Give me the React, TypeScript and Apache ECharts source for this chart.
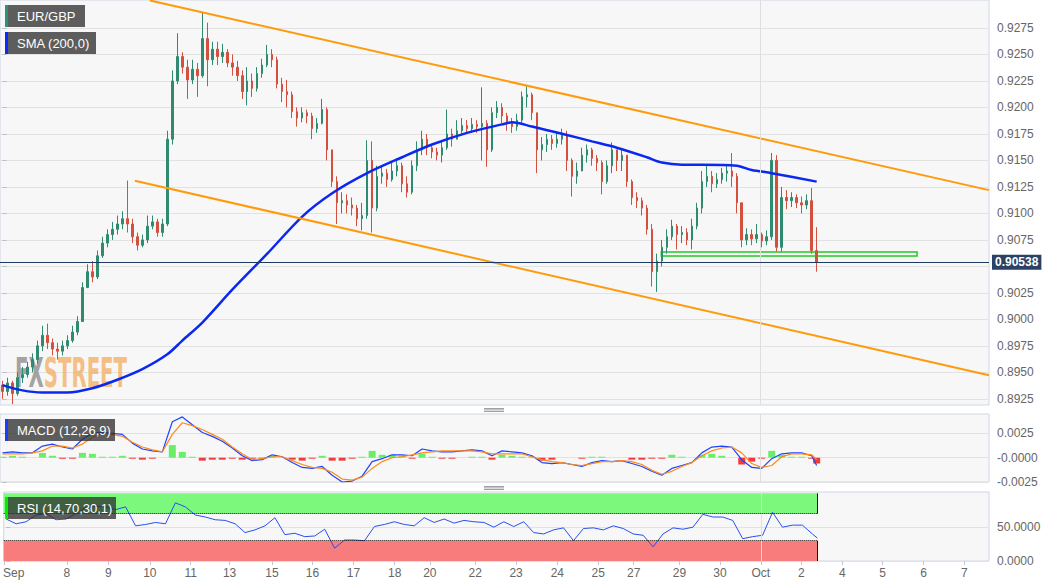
import React, { useEffect, useRef } from "react";
import * as echarts from "echarts";

// ---------- data ----------
const firstOpen = 0.8938;
const closes = [
  0.8932, 0.894, 0.893, 0.8945, 0.8948, 0.8955, 0.8962, 0.8975, 0.8985, 0.8978,
  0.8972, 0.897, 0.8975, 0.898, 0.8988, 0.8998, 0.903, 0.9045, 0.904, 0.906,
  0.9072, 0.908, 0.9085, 0.909, 0.9095, 0.909, 0.9078, 0.907, 0.9075, 0.9088,
  0.9092, 0.9082, 0.909, 0.917, 0.9225, 0.9248, 0.9238, 0.9226, 0.9236, 0.923,
  0.9265, 0.9245, 0.9255, 0.9248, 0.9252, 0.9242, 0.9238, 0.923, 0.9215, 0.9225,
  0.9218, 0.9232, 0.924, 0.925, 0.9245, 0.9222, 0.9215, 0.9212, 0.9196, 0.919,
  0.9195, 0.9192, 0.918, 0.9185, 0.9198, 0.916, 0.913, 0.911, 0.9112, 0.9108,
  0.9105, 0.9095, 0.9098, 0.915, 0.9105, 0.9135, 0.9138, 0.9132, 0.914, 0.9145,
  0.9128, 0.912, 0.9145, 0.916, 0.917, 0.9162, 0.9158, 0.9155, 0.9162, 0.9175,
  0.917, 0.9178, 0.9183, 0.918, 0.9184, 0.9182, 0.9185, 0.916, 0.9195, 0.92,
  0.9192, 0.9185, 0.9182, 0.9188, 0.921, 0.9212, 0.9195, 0.916, 0.9165, 0.917,
  0.9166, 0.917, 0.9174, 0.915, 0.9135, 0.914, 0.9155, 0.916, 0.9152, 0.9148,
  0.913, 0.9145, 0.916, 0.915, 0.9155, 0.913, 0.9115, 0.9112, 0.9105, 0.9085,
  0.9045, 0.9055, 0.9068, 0.9078, 0.9088, 0.908, 0.9082, 0.9075, 0.9088, 0.9105,
  0.913, 0.9135, 0.9128, 0.9132, 0.9138, 0.914, 0.9135, 0.911, 0.9075, 0.908,
  0.9076, 0.908, 0.9074, 0.9078, 0.915, 0.9068, 0.9115, 0.9112, 0.9115, 0.911,
  0.9108, 0.9112, 0.9065, 0.90538,
];
const highs = [
  0.8942, 0.8945, 0.8942, 0.895, 0.8955, 0.896, 0.8968, 0.898, 0.8994, 0.8996,
  0.8982, 0.8978, 0.898, 0.8985, 0.8994, 0.9003, 0.9035, 0.9052, 0.9055, 0.9065,
  0.9078, 0.9085, 0.9092, 0.9098, 0.9102, 0.9131, 0.9095, 0.9082, 0.908, 0.9098,
  0.9098, 0.9095, 0.9095, 0.9178, 0.9235, 0.927, 0.9252, 0.9245, 0.9245, 0.9242,
  0.929, 0.928, 0.9262, 0.9262, 0.926, 0.9255, 0.925, 0.9244, 0.9235, 0.9238,
  0.9232, 0.9238, 0.9246, 0.9259, 0.9255, 0.9248, 0.9228, 0.9226, 0.9215, 0.92,
  0.92, 0.9198, 0.9195, 0.919, 0.9208, 0.92, 0.916, 0.9135, 0.912, 0.9118,
  0.9115, 0.9108, 0.911, 0.9169, 0.9168, 0.9145, 0.9145, 0.9142, 0.9148, 0.9152,
  0.9148, 0.9135, 0.915, 0.9168, 0.9178, 0.9175, 0.9165, 0.9162, 0.9168, 0.9198,
  0.918, 0.9188, 0.919, 0.9188, 0.919, 0.9188, 0.9219, 0.9188, 0.92, 0.9206,
  0.9204, 0.9195, 0.919, 0.9194, 0.9215, 0.922, 0.9214, 0.9195, 0.9172, 0.9175,
  0.9174, 0.9176, 0.918, 0.9178, 0.9152, 0.9148, 0.9162, 0.9165, 0.9162, 0.9155,
  0.915, 0.915, 0.9167, 0.916, 0.916, 0.9155, 0.9132, 0.912, 0.9115, 0.9108,
  0.909, 0.9062, 0.9075, 0.9085, 0.9094, 0.909, 0.9088, 0.9086, 0.9095, 0.911,
  0.914, 0.9145, 0.914, 0.9138, 0.9143, 0.9146, 0.9157, 0.9138, 0.911, 0.9086,
  0.9085, 0.909, 0.9082, 0.9084, 0.9157, 0.9155, 0.9125, 0.9122, 0.912, 0.9118,
  0.9116, 0.9118, 0.9124, 0.9087,
];
const lows = [
  0.8925, 0.8928, 0.892, 0.8928, 0.894, 0.8945, 0.895, 0.8958, 0.897, 0.8972,
  0.8966, 0.8962, 0.8966, 0.8972, 0.8978, 0.8985, 0.8998, 0.903, 0.9035, 0.9038,
  0.9058, 0.9068, 0.9075, 0.908, 0.9085, 0.9082, 0.9072, 0.9065, 0.9068, 0.9072,
  0.9085, 0.9078, 0.9078, 0.9088, 0.9165, 0.9222, 0.9232, 0.9208, 0.9222, 0.921,
  0.9228, 0.922, 0.924, 0.924, 0.9242, 0.9238, 0.923, 0.9225, 0.9208, 0.9202,
  0.921, 0.9215, 0.9228, 0.9238, 0.9238, 0.9218, 0.9205, 0.92, 0.919, 0.9182,
  0.9186, 0.9185, 0.917, 0.9176, 0.9184, 0.915, 0.9125, 0.909, 0.91, 0.91,
  0.9098, 0.9088, 0.9084, 0.9095, 0.9082, 0.9102, 0.9128, 0.9125, 0.913, 0.9135,
  0.912, 0.9115, 0.9118, 0.914, 0.9155, 0.9155, 0.9152, 0.915, 0.9148, 0.916,
  0.9163, 0.917, 0.9174, 0.9175, 0.9176, 0.9176, 0.915, 0.9144, 0.9158, 0.919,
  0.9185, 0.9178, 0.9176, 0.9178, 0.9185, 0.92, 0.9188, 0.9138, 0.915, 0.9158,
  0.916, 0.9162, 0.9165, 0.914, 0.9116, 0.9128, 0.914, 0.9148, 0.9145, 0.914,
  0.9118, 0.9128, 0.9138, 0.914, 0.914, 0.9125, 0.9108, 0.9105, 0.9098, 0.908,
  0.9031, 0.9026, 0.905, 0.9062, 0.9075, 0.9066, 0.9072, 0.907, 0.9066, 0.9085,
  0.91, 0.9125, 0.912, 0.9124, 0.9128, 0.913, 0.9125, 0.91, 0.9068, 0.907,
  0.907, 0.9072, 0.9068, 0.907, 0.9075, 0.9064, 0.9064, 0.9104, 0.9106, 0.9105,
  0.91, 0.9104, 0.9062, 0.9045,
];
// SMA(200): [candle index, value]
const smaPoints: [number, number][] = [
  [0, 0.8938], [4, 0.8933], [8, 0.8931], [13, 0.8931], [18, 0.8935], [23, 0.8943],
  [28, 0.8953], [33, 0.8967], [36, 0.898], [40, 0.8997], [46, 0.9028], [53, 0.9062],
  [60, 0.9097], [66, 0.9119], [73, 0.9138], [80, 0.9153], [86, 0.9165], [93, 0.9176],
  [100, 0.9184], [102, 0.9186], [106, 0.9182], [113, 0.9174], [118, 0.9168], [123, 0.9162],
  [129, 0.9153], [132, 0.9148], [136, 0.9146], [140, 0.9146], [147, 0.9145], [150, 0.9141],
  [154, 0.9138], [163, 0.913],
];
// indicators sampled every other candle, plus the last candle
const macdLine = [
  0.0005, 0.0006, 0.0005, 0.0005, 0.0012, 0.0014, 0.0011, 0.0009, 0.0019, 0.0025,
  0.0026, 0.0025, 0.0024, 0.0015, 0.0009, 0.0007, 0.0006, 0.0037, 0.0042, 0.0034,
  0.0026, 0.0022, 0.0017, 0.001, 0.0002, -0.0003, -0.0002, 0.0003, 0.0001, -0.0005,
  -0.001, -0.0011, -0.0009, -0.0018, -0.0025, -0.0024, -0.0019, -0.0004, -0.0001, 0.0003,
  0.0003, 0.0002, 0.0009, 0.0007, 0.0006, 0.0006, 0.0007, 0.0008, 0.0007, 0.0002,
  0.0007, 0.0006, 0.0005, 0.0002, -0.0005, -0.0006, -0.0005, -0.0007, -0.0009, -0.0005,
  -0.0003, -0.0004, -0.0003, -0.0006, -0.0009, -0.0014, -0.0018, -0.0011, -0.0008, -0.0005,
  0.0005, 0.0011, 0.0012, 0.0011, -0.0002, -0.001, -0.0011, -0.0001, 0.0004, 0.0005,
  0.0005, 0.0002, -0.0008,
];
const signalLine = [
  0.0004, 0.0004, 0.0004, 0.0005, 0.0007, 0.0012, 0.0012, 0.001, 0.0014, 0.0021,
  0.0025, 0.0024, 0.0022, 0.0016, 0.0011, 0.0008, 0.0006, 0.0024, 0.0036, 0.0033,
  0.0029, 0.0024, 0.0019, 0.0011, 0.0004, -0.0002, -0.0001, 0.0001, 0.0001, -0.0003,
  -0.0007, -0.001, -0.0011, -0.0015, -0.0022, -0.0023, -0.002, -0.0011, -0.0004, 0.0,
  0.0001, 0.0003, 0.0005, 0.0006, 0.0007, 0.0007, 0.0007, 0.0007, 0.0006, 0.0004,
  0.0004, 0.0004, 0.0004, 0.0001, -0.0002, -0.0004, -0.0005, -0.0007, -0.0008, -0.0006,
  -0.0004, -0.0004, -0.0003, -0.0004, -0.0007, -0.0013, -0.0017, -0.0014, -0.0009, -0.0005,
  0.0002, 0.0007, 0.001, 0.0011, 0.0005, -0.0006, -0.001, -0.0008, 0.0001, 0.0004,
  0.0004, 0.0003, -0.0002,
];
const rsiLine = [
  62, 55, 58, 68, 70, 61, 62, 70, 79, 81,
  80, 76, 80, 52, 54, 57, 55, 86, 80, 68,
  65, 61, 60, 55, 42, 46, 52, 64, 39, 41,
  36, 37, 47, 19, 31, 31, 30, 51, 54, 58,
  54, 52, 64, 57, 62, 56, 60, 58, 57, 50,
  58, 51, 58, 42, 40, 46, 49, 30, 48, 49,
  46, 52, 48, 40, 38, 21, 40, 49, 47, 50,
  69, 65, 65, 60, 33, 36, 38, 72, 50, 53,
  53, 40, 34,
];
const lastPrice = 0.90538;
const upperChannel: [number, number][] = [[29.5, 0.9301], [197.5, 0.9122]];
const lowerChannel: [number, number][] = [[26.5, 0.91308], [197.5, 0.89473]];
const supportZone = { from: 131.9, to: 183.1, low: 0.90599, high: 0.90637 };
const priceTicks = [0.8925, 0.895, 0.8975, 0.9, 0.9025, 0.905, 0.9075, 0.91, 0.9125, 0.915, 0.9175, 0.92, 0.9225, 0.925, 0.9275];
const macdTicks = [-0.0025, 0, 0.0025];
const rsiTicks = [0, 50];
const rsiZones = { over: 70, under: 30, top: 100, end: 163 };
const dayStarts = [
  { t: -0.3, at: 1.5, label: "Sep" }, { t: 12.17, at: 12.17, label: "8" },
  { t: 20.52, at: 20.52, label: "9" }, { t: 28.87, at: 28.87, label: "10" },
  { t: 37.08, at: 37.08, label: "11" }, { t: 44.89, at: 44.89, label: "13" },
  { t: 53.41, at: 53.41, label: "15" }, { t: 61.56, at: 61.56, label: "16" },
  { t: 69.77, at: 69.77, label: "17" }, { t: 78.08, at: 78.08, label: "18" },
  { t: 85.13, at: 85.13, label: "20" }, { t: 94.25, at: 94.25, label: "22" },
  { t: 102.46, at: 102.46, label: "23" }, { t: 110.75, at: 110.75, label: "24" },
  { t: 118.96, at: 118.96, label: "25" }, { t: 126.09, at: 126.09, label: "27" },
  { t: 135.3, at: 135.3, label: "29" }, { t: 143.44, at: 143.44, label: "30" },
  { t: 151.65, at: 151.65, label: "Oct" }, { t: 159.8, at: 159.8, label: "2" },
  { t: 168.01, at: 168.01, label: "4" }, { t: 176.14, at: 176.14, label: "5" },
  { t: 184.35, at: 184.35, label: "6" }, { t: 192.55, at: 192.55, label: "7" },
];
const octStart = 151.65;
const X_MIN = -0.5;
const X_MAX = 197.5;

const sampleCandle = (k: number) => (k < macdLine.length - 1 ? 2 * k : closes.length - 1);

function buildOption() {
  const candles = closes.map((c, i) => {
    const o = i === 0 ? firstOpen : closes[i - 1];
    const h = Math.max(highs[i], o, c);
    const l = Math.min(lows[i], o, c);
    return [i, o, c, l, h];
  });
  const font = "Liberation Sans, Arial, sans-serif";
  const gridBase = {
    left: 0, right: 71, show: true, backgroundColor: "#f7f7f7",
    borderColor: "#d0d6e4", borderWidth: 1,
  };
  const hiddenX = (gi: number) => ({
    type: "value", gridIndex: gi, min: X_MIN, max: X_MAX,
    axisLine: { show: false }, axisTick: { show: false }, axisLabel: { show: false },
    splitLine: { show: false },
  });
  const yBase = (gi: number, min: number, max: number, ticks: number[], labels: number[], fmt: (v: number) => string) => ({
    type: "value", gridIndex: gi, position: "right", min, max,
    axisLine: { show: false },
    axisTick: { show: true, length: 4, customValues: ticks, lineStyle: { color: "#b8bfcc" } },
    axisLabel: { customValues: labels, formatter: fmt, color: "#666", fontSize: 12, fontFamily: font, margin: 8 },
    splitLine: { show: true, lineStyle: { color: "#e2e2e2", width: 1 } },
  });
  const octLine = { xAxis: octStart, lineStyle: { color: "#dedede", width: 1, type: "solid" }, label: { show: false } };
  // the last-price tag hides the price label it covers
  const priceLabels = priceTicks.filter((v) => Math.abs(v - lastPrice) > 0.001);

  const box = (x: number, y: number, w: number, strip: string, text: string) => ({
    type: "group", z: 100,
    children: [
      { type: "rect", shape: { x, y, width: w, height: 22 }, style: { fill: "rgba(45,45,45,0.76)" }, z: 100 },
      { type: "rect", shape: { x, y, width: 3, height: 22 }, style: { fill: strip }, z: 101 },
      {
        type: "text", x: x + 12, y: y + 11, z: 102,
        style: { text, fill: "#fff", font: `13px ${font}`, verticalAlign: "middle" },
      },
    ],
  });
  const handle = (y: number) => ({
    type: "group",
    children: [0, 1.5, 3].map((d) => ({
      type: "rect", shape: { x: 484, y: y + d, width: 20, height: 0.8 }, style: { fill: "#8a8a8a" },
    })),
  });

  return {
    animation: false,
    backgroundColor: "#ffffff",
    grid: [
      { ...gridBase, top: 0, height: 405 },
      { ...gridBase, top: 414, height: 68 },
      { ...gridBase, top: 492, height: 69 },
    ],
    xAxis: [
      hiddenX(0),
      hiddenX(1),
      {
        ...hiddenX(2),
        axisTick: { show: true, length: 4, customValues: dayStarts.map((d) => d.t), lineStyle: { color: "#c0c7d4" } },
        axisLabel: {
          show: true, customValues: dayStarts.map((d) => d.at), color: "#666", fontSize: 12, fontFamily: font, margin: 6,
          formatter: (v: number) => {
            const d = dayStarts.find((e) => Math.abs(e.at - v) < 1e-6);
            return d ? d.label : "";
          },
        },
      },
    ],
    yAxis: [
      yBase(0, 0.89192, 0.93014, priceTicks, priceLabels, (v) => v.toFixed(4)),
      yBase(1, -0.0025, 0.0045, macdTicks, macdTicks, (v) => (Math.abs(v) < 1e-9 ? "-0.0000" : v.toFixed(4))),
      yBase(2, 0, 102, rsiTicks, rsiTicks, (v) => v.toFixed(4)),
    ],
    graphic: [
      {
        type: "text", x: 15, y: 352, scaleX: 0.52, scaleY: 1.08, z: 1,
        style: {
          text: "{a|FX}{b|STREET}",
          rich: {
            a: { fill: "rgba(140,140,140,0.8)", fontSize: 38, fontWeight: "bold", fontFamily: "DejaVu Sans" },
            b: { fill: "rgba(242,176,100,0.8)", fontSize: 38, fontWeight: "bold", fontFamily: "DejaVu Sans" },
          },
        },
      },
      box(5, 5, 80, "#2b9276", "EUR/GBP"),
      box(5, 32, 91, "#0a28ff", "SMA (200,0)"),
      box(5, 419, 110, "#1a3cff", "MACD (12,26,9)"),
      box(5, 497, 111, "#00ee00", "RSI (14,70,30,1)"),
      handle(408),
      handle(486),
    ],
    series: [
      {
        type: "candlestick", xAxisIndex: 0, yAxisIndex: 0, z: 2,
        data: candles, encode: { x: 0, y: [1, 2, 3, 4] }, barWidth: 2,
        itemStyle: { color: "#2e8b6f", color0: "#d4503e", borderColor: "#2e8b6f", borderColor0: "#d4503e", borderWidth: 1 },
      },
      {
        type: "line", xAxisIndex: 0, yAxisIndex: 0, z: 3, data: smaPoints, smooth: 0.3,
        symbol: "none", lineStyle: { color: "#0a28f0", width: 2.5 },
        markLine: {
          symbol: "none", silent: true, animation: false, precision: 5,
          data: [
            octLine,
            {
              yAxis: lastPrice,
              lineStyle: { color: "#1f3a60", width: 1, type: "solid" },
              label: {
                show: true, position: "end", formatter: lastPrice.toFixed(5), distance: 3,
                backgroundColor: "#2b4165", color: "#fff", fontWeight: "bold", fontSize: 12,
                fontFamily: font, padding: [2, 3, 1, 3],
              },
            },
          ],
        },
        markArea: {
          silent: true,
          data: [[
            { coord: [supportZone.from, supportZone.high], itemStyle: { color: "rgba(255,255,255,0.5)", borderColor: "#1fcc1f", borderWidth: 1.5 } },
            { coord: [supportZone.to, supportZone.low] },
          ]],
        },
      },
      {
        type: "line", xAxisIndex: 0, yAxisIndex: 0, z: 3, data: upperChannel,
        symbol: "none", lineStyle: { color: "#ff9a0a", width: 2 },
      },
      {
        type: "line", xAxisIndex: 0, yAxisIndex: 0, z: 3, data: lowerChannel,
        symbol: "none", lineStyle: { color: "#ff9a0a", width: 2 },
      },
      {
        type: "bar", xAxisIndex: 1, yAxisIndex: 1, z: 2, barWidth: 7,
        data: macdLine.map((m, k) => [sampleCandle(k), +(m - signalLine[k]).toFixed(5)]),
        itemStyle: { color: (p: any) => (p.value[1] >= 0 ? "#6aee6a" : "#f23a3a") },
        markLine: { symbol: "none", silent: true, data: [octLine] },
      },
      {
        type: "line", xAxisIndex: 1, yAxisIndex: 1, z: 3,
        data: macdLine.map((m, k) => [sampleCandle(k), m]),
        symbol: "none", lineStyle: { color: "#1f44ff", width: 1.2 },
      },
      {
        type: "line", xAxisIndex: 1, yAxisIndex: 1, z: 3,
        data: signalLine.map((s, k) => [sampleCandle(k), s]),
        symbol: "none", lineStyle: { color: "#ff8a1a", width: 1.2 },
      },
      {
        type: "line", xAxisIndex: 2, yAxisIndex: 2, z: 1, data: [],
        markArea: {
          silent: true,
          data: [
            [{ coord: [X_MIN, rsiZones.over], itemStyle: { color: "#7cf87c" } }, { coord: [rsiZones.end, rsiZones.top] }],
            [{ coord: [X_MIN, 0], itemStyle: { color: "#f87c7c" } }, { coord: [rsiZones.end, rsiZones.under] }],
          ],
        },
        markLine: {
          symbol: "none", silent: true, label: { show: false },
          data: [
            octLine,
            [{ coord: [X_MIN, rsiZones.over], lineStyle: { color: "#111", width: 1, type: "dotted" } }, { coord: [rsiZones.end, rsiZones.over] }],
            [{ coord: [X_MIN, rsiZones.under], lineStyle: { color: "#111", width: 1, type: "dotted" } }, { coord: [rsiZones.end, rsiZones.under] }],
            [{ coord: [rsiZones.end, rsiZones.over], lineStyle: { color: "#111", width: 1, type: "solid" } }, { coord: [rsiZones.end, rsiZones.top] }],
            [{ coord: [rsiZones.end, 0], lineStyle: { color: "#111", width: 1, type: "solid" } }, { coord: [rsiZones.end, rsiZones.under] }],
          ],
        },
      },
      {
        type: "line", xAxisIndex: 2, yAxisIndex: 2, z: 3,
        data: rsiLine.map((v, k) => [sampleCandle(k), v]),
        symbol: "none", lineStyle: { color: "#2650f0", width: 1 },
      },
    ],
  };
}

export default function App() {
  const ref = useRef<HTMLDivElement>(null);
  useEffect(() => {
    document.body.style.margin = "0";
    if (!ref.current) return;
    const chart = echarts.init(ref.current, null, { renderer: "svg" });
    chart.setOption(buildOption() as any);
    return () => chart.dispose();
  }, []);
  return <div ref={ref} style={{ width: 1060, height: 587 }} />;
}
